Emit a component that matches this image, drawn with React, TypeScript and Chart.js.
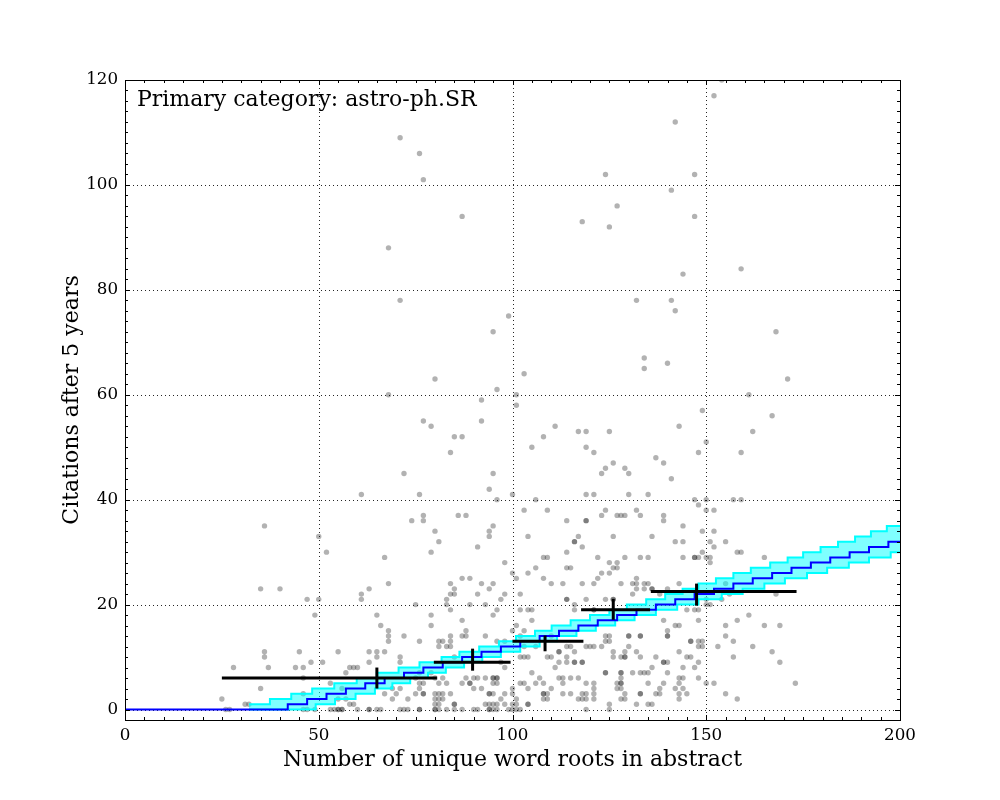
import React, { useEffect, useRef } from "react";
import { Chart, registerables } from "chart.js";
Chart.register(...registerables);

// ---- scatter data (word roots, citations) ----
const pointsX = [
  71, 76, 77, 87, 68, 71, 99, 95, 80, 96, 68, 92, 101, 101,
  154, 152, 142, 124, 147, 141, 127, 147, 118, 125, 159, 144, 132, 141, 142, 168, 134, 134, 140, 103, 171, 161,
  61, 36, 50, 52, 35, 40, 61, 61, 63, 47, 50, 49, 65, 36, 36, 45, 55, 65, 28, 37, 44, 46, 48, 51, 46, 58, 59, 60, 63, 57, 35, 53, 56, 25, 46, 55, 57, 31, 32, 58, 59, 26, 27, 46, 47, 49, 53, 54, 55, 56, 60, 63, 65, 55, 56,
  77, 79, 92, 85, 87, 108, 111, 84, 105, 72, 95, 94, 96, 100, 76, 103, 106, 109, 86, 88, 77, 77, 74, 95, 94, 94, 80, 81, 91, 79, 67, 98, 108, 109, 100, 104, 106, 108, 110, 68, 84, 87, 89, 92, 85, 85, 95, 91, 98, 102, 83, 83, 75, 89, 93, 97,
  66, 79, 79, 84, 87, 96, 95, 102, 104, 105, 101, 103, 105, 68, 68, 68, 72, 76, 81, 82, 84, 84, 87, 88, 88, 93, 96, 98, 63, 65, 67, 71, 81, 83, 84, 85,
  88, 90, 91, 93, 95, 96, 95, 96, 97, 98, 82, 83, 81, 76, 77, 76, 71, 70, 69, 73, 75, 77, 80, 81, 82, 80, 81, 82, 80, 81, 84, 85, 87, 89, 90, 92, 94, 95, 98, 100, 100, 93, 94, 95, 96, 97, 98, 101, 100, 101,
  66, 71, 72, 73, 76, 80, 81, 83, 85, 87, 90, 91, 94, 95, 96, 99, 100, 101, 102, 102, 103, 104, 105, 102, 103, 104, 104, 106, 107, 108, 109, 110, 111, 112, 109, 110, 106, 103, 100, 102, 67, 69, 71, 75, 76, 79, 80,
  77, 85, 89, 94, 95, 96, 104, 108, 112, 76, 80, 94, 63,
  114, 104, 101, 94, 84, 114, 119, 124, 126, 126,
  149, 117, 119, 125, 143, 150, 119, 121, 137, 139, 148, 126, 124, 129, 123, 130, 141, 119, 121, 130, 135, 147, 150, 124, 132, 152, 123, 127, 128, 129, 133, 139, 139, 119, 144, 117, 126, 136, 116, 118, 142, 144, 151, 155, 114, 149, 122, 129, 133, 135, 147, 150, 151, 125, 127, 151,
  114, 115, 126, 127, 123, 125, 122, 113, 118, 121, 128, 131, 132, 134, 135, 132, 136, 114, 116, 116, 121, 139, 142, 110, 124, 125, 130, 133, 140, 140, 146, 148, 149, 153, 157, 155, 114, 115, 114, 116, 116, 118, 114, 112,
  119, 120, 121, 123, 124, 125, 126, 128, 129, 130, 126, 132, 137, 139, 140, 143, 147, 144, 136, 112, 113, 124, 128, 131, 133, 135, 140, 143, 143, 148, 108, 113, 115, 117, 121, 121, 119, 127, 128, 135, 139, 145, 150, 152, 155,
  113, 115, 118, 119, 121, 127, 128, 133, 137, 138, 142, 143, 108, 109, 117, 118, 119, 121, 129, 125, 132, 135, 136, 119, 125,
  167, 162, 159, 157, 159, 158, 159, 165, 155, 156, 154, 168, 161, 158, 165, 169, 155, 157, 162, 167, 169, 173, 158,
  148, 150, 149, 152, 152, 144, 148, 132, 143, 134, 140, 131, 138, 150, 150, 151, 145, 147, 148, 148, 143, 149, 148, 129, 129, 133, 145, 146, 148, 134, 128, 128, 144, 138, 144, 129, 128, 143,
  119, 116, 147, 121, 136, 130, 133, 140, 146, 116, 118, 139, 124, 128, 133,
];
const pointsY = [
  109, 106, 101, 94, 88, 78, 75, 72, 63, 61, 60, 59, 60, 58,
  120, 117, 112, 102, 102, 99, 96, 94, 93, 92, 84, 83, 78, 78, 76, 72, 67, 65, 66, 64, 63, 60,
  41, 35, 33, 30, 23, 23, 22, 21, 23, 21, 21, 18, 18, 11, 10, 11, 11, 11, 8, 8, 8, 8, 9, 9, 6, 8, 8, 8, 9, 7, 4, 5, 4, 2, 3, 2, 2, 1, 1, 1, 1, 0, 0, 0, 0, 0, 0, 0, 0, 0, 0, 0, 0, 0, 0,
  55, 54, 55, 52, 52, 52, 54, 49, 50, 45, 45, 42, 40, 41, 41, 38, 40, 38, 37, 37, 37, 36, 36, 35, 34, 33, 34, 32, 31, 30, 29, 28, 29, 29, 26, 26, 27, 25, 24, 24, 24, 25, 25, 24, 23, 22, 24, 22, 22, 22, 21, 20, 20, 20, 20, 21,
  16, 18, 16, 19, 17, 19, 18, 19, 19, 19, 16, 15, 17, 15, 14, 13, 14, 13, 13, 13, 14, 13, 14, 14, 15, 14, 13, 13, 11, 10, 11, 10, 12, 12, 12, 10,
  6, 6, 6, 6, 6, 6, 5, 5, 9, 8, 6, 5, 5, 5, 5, 4, 4, 3, 2, 2, 3, 3, 3, 3, 3, 2, 2, 2, 1, 1, 3, 1, 5, 5, 4, 4, 3, 3, 3, 4, 3, 1, 1, 1, 1, 2, 1, 2, 1, 1,
  0, 0, 0, 0, 0, 0, 0, 0, 0, 0, 0, 0, 0, 0, 0, 0, 0, 0, 0, 10, 10, 10, 7, 5, 5, 4, 1, 5, 6, 3, 3, 4, 8, 11, 10, 10, 12, 12, 15, 14, 3, 4, 9, 6, 7, 7, 6,
  3, 1, 5, 3, 6, 6, 1, 3, 11, 0, 0, 0, 0,
  36, 33, 25, 23, 22, 21, 21, 21, 21, 21,
  57, 53, 53, 53, 54, 51, 50, 49, 48, 47, 49, 47, 46, 46, 45, 45, 44, 41, 41, 41, 41, 40, 40, 38, 38, 38, 37, 37, 37, 37, 37, 37, 36, 36, 35, 33, 33, 33, 32, 31, 32, 32, 32, 32, 30, 30, 29, 29, 29, 29, 29, 29, 29, 28, 28, 28,
  27, 27, 27, 27, 26, 26, 25, 24, 24, 24, 24, 24, 24, 24, 24, 23, 23, 21, 20, 19, 19, 17, 16, 14, 14, 14, 14, 14, 14, 15, 13, 13, 12, 12, 10, 16, 10, 12, 12, 11, 9, 9, 9, 9,
  12, 12, 12, 12, 13, 13, 11, 10, 10, 12, 10, 11, 10, 9, 9, 11, 8, 8, 8, 6, 6, 7, 7, 7, 7, 7, 7, 6, 5, 6, 5, 5, 6, 6, 5, 4, 5, 5, 5, 5, 5, 3, 5, 5, 3,
  3, 3, 3, 3, 3, 4, 4, 3, 3, 3, 4, 3, 2, 2, 2, 2, 2, 2, 2, 1, 1, 1, 1, 0, 0,
  56, 53, 49, 40, 40, 30, 30, 29, 24, 22, 21, 22, 18, 17, 16, 16, 14, 13, 12, 11, 9, 5, 2,
  39, 38, 34, 34, 31, 29, 29, 25, 24, 23, 23, 22, 22, 21, 20, 20, 19, 19, 19, 17, 16, 13, 12, 11, 10, 10, 10, 10, 9, 7, 6, 5, 6, 4, 4, 3, 2, 2,
  36, 32, 29, 19, 23, 14, 14, 14, 13, 9, 9, 9, 7, 7, 3,
];

// ---- model: median step line and band (transition x -> value) ----
const medianX = [0, 42, 47, 52, 57, 62, 67, 72, 77, 82, 87, 92, 97, 102, 107, 112, 117, 122, 127, 132, 137, 142, 147, 152, 157, 162, 167, 172, 177, 182, 187, 192, 197, 200];
const medianY = [0, 1, 2, 3, 4, 5, 6, 7, 8, 9, 10, 11, 12, 13, 14, 15, 16, 17, 18, 19, 20, 21, 22, 23, 24, 25, 26, 27, 28, 29, 30, 31, 32, 32];
const upperX = [32, 37.4, 42.9, 48.3, 54, 59.8, 65, 70.6, 76, 81.7, 86.3, 91.4, 96.5, 100.9, 105.8, 110.1, 115, 120, 125, 129.5, 134.5, 139.4, 143.9, 148, 152.5, 157, 161.5, 166.5, 171, 175, 179.5, 184, 188.4, 192.5, 196.6, 200];
const upperY = [1, 2, 3, 4, 5, 6, 7, 8, 9, 10, 11, 12, 13, 14, 15, 16, 17, 18, 19, 20, 21, 22, 23, 24, 25, 26, 27, 28, 29, 30, 31, 32, 33, 34, 35, 35];
const lowerX = [32, 49.2, 54.2, 59.5, 64.5, 69, 73.6, 78.2, 82.8, 87.5, 92.2, 97, 102, 107, 111.5, 116.5, 121.5, 126.5, 131.5, 137, 142.5, 148, 154, 159.4, 165, 170.3, 176, 181.2, 186.8, 192, 197.6, 200];
const lowerY = [0, 1, 2, 3, 4, 5, 6, 7, 8, 9, 10, 11, 12, 13, 14, 15, 16, 17, 18, 19, 20, 21, 22, 23, 24, 25, 26, 27, 28, 29, 30, 30];

// ---- binned means with error bars ----
const binLo = [25, 79.7, 100, 117.7, 135.7];
const binHi = [80.5, 99.5, 118.3, 135.5, 173.3];
const binCenter = [65, 89.7, 108.4, 126, 147.5];
const binMean = [6, 9, 13, 19, 22.5];
const binErrLo = [4, 7.4, 11.1, 17.1, 19.8];
const binErrHi = [8, 11.6, 14.1, 21.1, 24];

// ---- axes ----
const xTicks = [0, 50, 100, 150, 200];
const yTicks = [0, 20, 40, 60, 80, 100, 120];
const xRange = [0, 200];
const yRange = [-2, 120];
const xMinorStep = 5;
const yMinorStep = 2;

const annotationText = "Primary category: astro-ph.SR";
const xTitle = "Number of unique word roots in abstract";
const yTitle = "Citations after 5 years";
const FONT = '"DejaVu Serif", serif';

const decorPlugin = {
  id: "decor",
  beforeDatasetsDraw(chart: any) {
    const { ctx, chartArea: a, scales } = chart;
    const x = scales.x, y = scales.y;
    ctx.save();
    ctx.strokeStyle = "rgba(0,0,0,0.85)";
    ctx.lineWidth = 1;
    ctx.setLineDash([1, 3]);
    for (const v of xTicks) {
      const px = Math.round(x.getPixelForValue(v)) + 0.5;
      if (px <= a.left + 1 || px >= a.right - 1) continue;
      ctx.beginPath(); ctx.moveTo(px, a.top); ctx.lineTo(px, a.bottom); ctx.stroke();
    }
    for (const v of yTicks) {
      const py = Math.round(y.getPixelForValue(v)) + 0.5;
      if (py <= a.top + 1 || py >= a.bottom - 1) continue;
      ctx.beginPath(); ctx.moveTo(a.left, py); ctx.lineTo(a.right, py); ctx.stroke();
    }
    ctx.restore();
  },
  afterDatasetsDraw(chart: any) {
    const { ctx, chartArea: a, scales } = chart;
    const x = scales.x, y = scales.y;
    ctx.save();
    ctx.setLineDash([]);
    ctx.strokeStyle = "#000";
    ctx.lineWidth = 1;
    ctx.beginPath();
    for (let v = x.min; v <= x.max + 1e-9; v += xMinorStep) {
      const major = xTicks.includes(v);
      const len = major ? 5 : 3;
      const px = Math.round(x.getPixelForValue(v)) + 0.5;
      ctx.moveTo(px, a.bottom); ctx.lineTo(px, a.bottom - len);
      ctx.moveTo(px, a.top); ctx.lineTo(px, a.top + len);
    }
    for (let v = Math.ceil(y.min / yMinorStep) * yMinorStep; v <= y.max + 1e-9; v += yMinorStep) {
      const major = yTicks.includes(v);
      const len = major ? 5 : 3;
      const py = Math.round(y.getPixelForValue(v)) + 0.5;
      ctx.moveTo(a.left, py); ctx.lineTo(a.left + len, py);
      ctx.moveTo(a.right, py); ctx.lineTo(a.right - len, py);
    }
    ctx.stroke();
    ctx.strokeRect(Math.round(a.left) + 0.5, Math.round(a.top) + 0.5, Math.round(a.right - a.left), Math.round(a.bottom - a.top));
    ctx.fillStyle = "#000";
    ctx.font = `22px ${FONT}`;
    ctx.textBaseline = "alphabetic";
    ctx.textAlign = "left";
    ctx.fillText(annotationText, a.left + 12, a.top + 26);
    ctx.restore();
  },
};

export default function App() {
  const ref = useRef<HTMLCanvasElement | null>(null);
  useEffect(() => {
    if (!ref.current) return;
    const scatterData = pointsX.map((v, i) => ({ x: v, y: pointsY[i] }));
    const step = (xs: number[], ys: number[]) => xs.map((v, i) => ({ x: v, y: ys[i] }));
    const errDatasets: any[] = [];
    binCenter.forEach((c, i) => {
      errDatasets.push({
        type: "line",
        data: [{ x: binLo[i], y: binMean[i] }, { x: binHi[i], y: binMean[i] }],
        borderColor: "#000", borderWidth: 3, pointRadius: 0, fill: false, order: 1,
      });
      errDatasets.push({
        type: "line",
        data: [{ x: c, y: binErrLo[i] }, { x: c, y: binErrHi[i] }],
        borderColor: "#000", borderWidth: 3, pointRadius: 0, fill: false, order: 1,
      });
    });
    const chart = new Chart(ref.current, {
      type: "scatter",
      data: {
        datasets: [
          {
            type: "scatter",
            data: scatterData,
            backgroundColor: "rgba(0,0,0,0.3)",
            borderWidth: 0,
            pointRadius: 2.7,
            order: 10,
          } as any,
          {
            type: "line",
            data: step(upperX, upperY),
            stepped: true,
            borderColor: "#00ffff",
            borderWidth: 2,
            pointRadius: 0,
            backgroundColor: "rgba(0,255,255,0.5)",
            fill: "+1",
            order: 3.5,
          } as any,
          {
            type: "line",
            data: step(lowerX, lowerY),
            stepped: true,
            borderColor: "#00ffff",
            borderWidth: 2,
            pointRadius: 0,
            fill: false,
            order: 3,
          } as any,
          {
            type: "line",
            data: step(medianX, medianY),
            stepped: true,
            borderColor: "#0000ff",
            borderWidth: 2,
            pointRadius: 0,
            fill: false,
            order: 2,
          } as any,
          ...errDatasets,
        ],
      },
      options: {
        animation: false,
        responsive: false,
        devicePixelRatio: 1,
        events: [],
        layout: { padding: { left: 0, right: 100, top: 80, bottom: 0 } },
        plugins: { legend: { display: false }, tooltip: { enabled: false } },
        scales: {
          x: {
            type: "linear",
            min: xRange[0],
            max: xRange[1],
            afterBuildTicks: (s: any) => { s.ticks = xTicks.map((v) => ({ value: v })); },
            afterFit: (s: any) => { s.height = 80; },
            ticks: { color: "#000", padding: 6, font: { family: FONT, size: 16.7 } },
            grid: { display: false, drawTicks: false },
            border: { display: false },
            title: { display: true, text: xTitle, color: "#000", font: { family: FONT, size: 22 }, padding: { top: 0, bottom: 27 } },
          },
          y: {
            type: "linear",
            min: yRange[0],
            max: yRange[1],
            afterBuildTicks: (s: any) => { s.ticks = yTicks.map((v) => ({ value: v })); },
            afterFit: (s: any) => { s.width = 125; },
            ticks: { color: "#000", padding: 7, font: { family: FONT, size: 16.7 } },
            grid: { display: false, drawTicks: false },
            border: { display: false },
            title: { display: true, text: yTitle, color: "#000", font: { family: FONT, size: 22 }, padding: { top: 59, bottom: 0 } },
          },
        },
      } as any,
      plugins: [decorPlugin],
    });
    return () => chart.destroy();
  }, []);
  return (
    <div style={{ position: "absolute", left: 0, top: 0, width: 1000, height: 800, background: "#fff" }}>
      <canvas ref={ref} width={1000} height={800} style={{ display: "block" }} />
    </div>
  );
}
